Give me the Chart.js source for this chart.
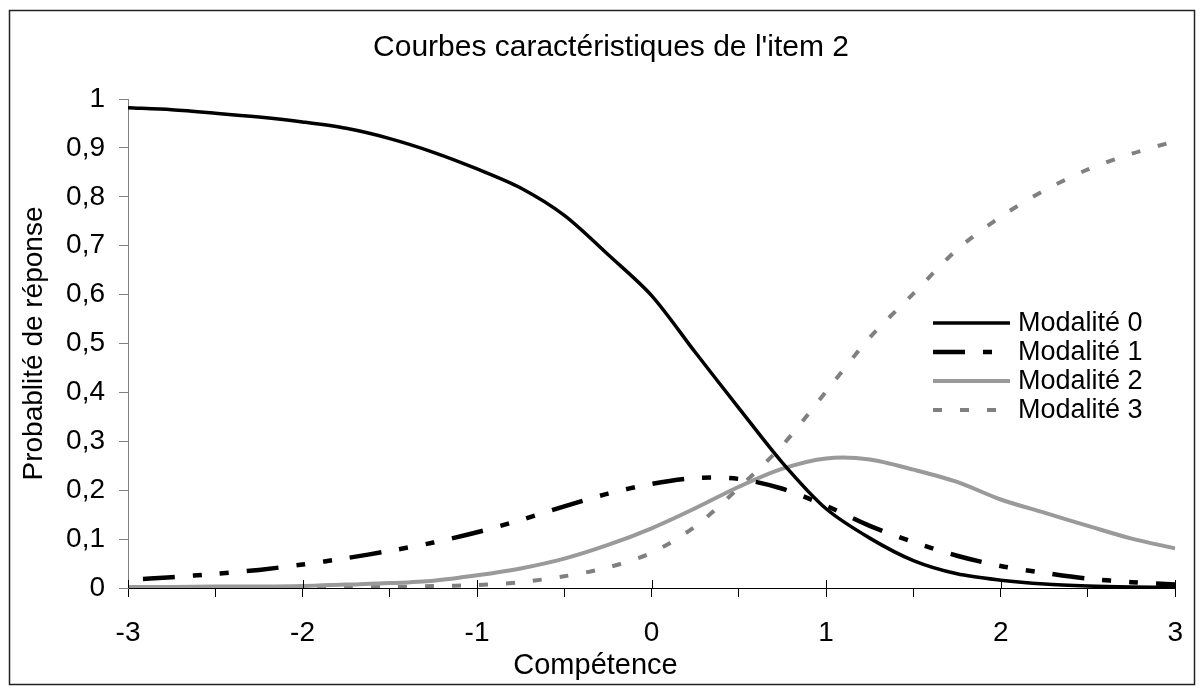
<!DOCTYPE html>
<html>
<head>
<meta charset="utf-8">
<script src="https://cdn.jsdelivr.net/npm/chart.js@4/dist/chart.umd.min.js"></script>
<style>
html,body{margin:0;padding:0;background:#fff;}
canvas{display:block;}
</style>
</head>
<body>
<canvas id="c" width="1202" height="691"></canvas>
<script>
// ---- data ----
const competence = [-3,-2.75,-2.5,-2.25,-2,-1.75,-1.5,-1.25,-1,-0.75,-0.5,-0.25,0,0.25,0.5,0.75,1,1.25,1.5,1.75,2,2.25,2.5,2.75,3];
const modalite0 = [0.982,0.978,0.971,0.963,0.953,0.940,0.919,0.891,0.857,0.818,0.762,0.682,0.598,0.482,0.368,0.256,0.162,0.102,0.056,0.029,0.016,0.008,0.004,0.002,0.001];
const modalite1 = [0.017,0.022,0.029,0.037,0.048,0.061,0.076,0.093,0.114,0.139,0.167,0.193,0.213,0.225,0.223,0.203,0.168,0.127,0.094,0.066,0.045,0.031,0.019,0.012,0.007];
const modalite2 = [0.002,0.002,0.003,0.003,0.004,0.007,0.010,0.015,0.026,0.040,0.060,0.088,0.122,0.163,0.207,0.244,0.265,0.263,0.242,0.217,0.181,0.154,0.127,0.101,0.081];
const modalite3 = [0.000,0.000,0.001,0.001,0.001,0.002,0.002,0.004,0.006,0.012,0.024,0.042,0.072,0.126,0.205,0.292,0.402,0.512,0.602,0.692,0.759,0.813,0.856,0.888,0.914];
const seriesNames = ['Modalité 0','Modalité 1','Modalité 2','Modalité 3'];
const xTickLabels = ['-3','-2','-1','0','1','2','3'];
const yTickLabels = ['0','0,1','0,2','0,3','0,4','0,5','0,6','0,7','0,8','0,9','1'];
const chartTitle = "Courbes caractéristiques de l'item 2";
const xAxisTitle = 'Compétence';
const yAxisTitle = 'Probablité de réponse';

const FONT = "'Liberation Sans', Arial, sans-serif";

function pts(vals){ return competence.map((x,i)=>({x:x, y:vals[i]})); }

const frameAndExtras = {
  id:'frameAndExtras',
  beforeDraw(chart){
    const ctx = chart.ctx;
    ctx.save();
    ctx.fillStyle = '#fff';
    ctx.fillRect(0,0,chart.width,chart.height);
    ctx.restore();
  },
  afterDraw(chart){
    const ctx = chart.ctx;
    const xs = chart.scales.x, ys = chart.scales.y;
    ctx.save();
    // outer frame
    ctx.strokeStyle = '#222';
    ctx.lineWidth = 1.5;
    ctx.strokeRect(9.5, 10.5, 1185, 674);
    // inner half of major x ticks (cross the axis)
    ctx.strokeStyle = '#000';
    ctx.lineWidth = 1;
    const y0 = ys.getPixelForValue(0);
    for (let v = -3; v <= 3; v++) {
      const px = Math.round(xs.getPixelForValue(v)) + 0.5;
      ctx.beginPath();
      ctx.moveTo(px, y0 - 8);
      ctx.lineTo(px, y0);
      ctx.stroke();
    }
    // x axis title
    ctx.fillStyle = '#000';
    ctx.font = '29px ' + FONT;
    ctx.textAlign = 'center';
    ctx.textBaseline = 'middle';
    ctx.fillText(xAxisTitle, 595.5, 666);
    // legend
    chart.data.datasets.forEach((ds, i) => {
      const yy = 323 + 29 * i;
      ctx.save();
      ctx.strokeStyle = ds.borderColor;
      ctx.lineWidth = ds.borderWidth;
      ctx.lineCap = 'butt';
      ctx.setLineDash(ds.borderDash || []);
      ctx.lineDashOffset = 0;
      ctx.beginPath();
      ctx.moveTo(933, yy);
      ctx.lineTo(1010, yy);
      ctx.stroke();
      ctx.restore();
      ctx.fillStyle = '#000';
      ctx.font = '27px ' + FONT;
      ctx.textAlign = 'left';
      ctx.textBaseline = 'middle';
      ctx.fillText(ds.label, 1018, yy + 1);
    });
    ctx.restore();
  }
};

new Chart(document.getElementById('c'), {
  type: 'line',
  data: {
    datasets: [
      {label: seriesNames[0], data: pts(modalite0), borderColor:'#000000', borderWidth:3.5, borderDash:[]},
      {label: seriesNames[1], data: pts(modalite1), borderColor:'#000000', borderWidth:4.5, borderDash:[32,18,9,18,9,18], borderDashOffset:89},
      {label: seriesNames[2], data: pts(modalite2), borderColor:'#9a9a9a', borderWidth:4, borderDash:[]},
      {label: seriesNames[3], data: pts(modalite3), borderColor:'#808080', borderWidth:4, borderDash:[9,18]}
    ]
  },
  options: {
    responsive: false,
    animation: false,
    devicePixelRatio: 1,
    events: [],
    elements: {
      point: {radius: 0},
      line: {tension: 0.3, borderCapStyle: 'butt', fill: false}
    },
    layout: {padding: {left: 44, right: 24, top: 10, bottom: 0}},
    plugins: {
      legend: {display: false},
      tooltip: {enabled: false},
      title: {
        display: true, text: chartTitle, color: '#000',
        font: {family: FONT, size: 30, weight: 'normal', lineHeight: 1.2},
        padding: {top: 20, bottom: 33}
      }
    },
    scales: {
      x: {
        type: 'linear', min: -3, max: 3,
        afterFit(s){ s.height = 103; },
        ticks: {
          stepSize: 0.5, autoSkip: false, maxRotation: 0, minRotation: 0,
          padding: 19, color: '#000',
          font: {family: FONT, size: 28},
          callback(v){
            const r = Math.round(v);
            if (Math.abs(v - r) < 1e-9) return xTickLabels[r + 3];
            return '';
          }
        },
        grid: {drawOnChartArea: false, drawTicks: true, tickLength: 9, color: '#000', lineWidth: 1},
        border: {display: true, color: '#000', width: 1}
      },
      y: {
        type: 'linear', min: 0, max: 1,
        afterFit(s){ s.width = 84; },
        ticks: {
          stepSize: 0.1, autoSkip: false, padding: 14, color: '#000',
          font: {family: FONT, size: 28},
          callback(v){ return yTickLabels[Math.round(v * 10)]; }
        },
        grid: {drawOnChartArea: false, drawTicks: true, tickLength: 9, color: '#808080', lineWidth: 1},
        border: {display: true, color: '#808080', width: 1},
        title: {
          display: true, text: yAxisTitle, color: '#000',
          font: {family: FONT, size: 28, lineHeight: 1.2},
          padding: {top: -27, bottom: 0}
        }
      }
    }
  },
  plugins: [frameAndExtras]
});
</script>
</body>
</html>
